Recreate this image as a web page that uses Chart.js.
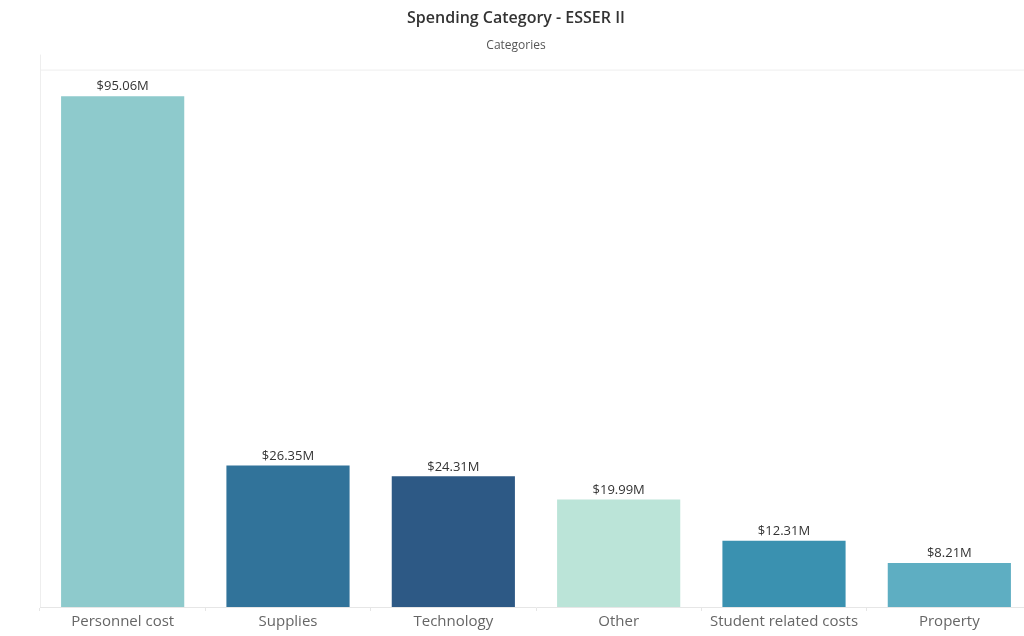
<!DOCTYPE html>
<html>
<head>
<meta charset="utf-8">
<script src="https://cdn.jsdelivr.net/npm/chart.js@4"></script>
<style>
  html, body { margin: 0; padding: 0; background: #fff; overflow: hidden; }
  #wrap { width: 1032px; height: 636px; }
</style>
</head>
<body>
<div id="wrap"><canvas id="spendChart" width="1032" height="636"></canvas></div>
<script>
const categories = ["Personnel cost", "Supplies", "Technology", "Other", "Student related costs", "Property"];
const spending = [95.06, 26.35, 24.31, 19.99, 12.31, 8.21];
const barColors = ["#8ecacc", "#31739a", "#2d5985", "#bbe4d8", "#3a91b0", "#5eaec2"];

// dollar labels above each bar
const valueLabels = {
  id: "valueLabels",
  afterDatasetsDraw(chart) {
    const ctx = chart.ctx;
    const meta = chart.getDatasetMeta(0);
    ctx.save();
    ctx.font = "13px 'Open Sans'";
    ctx.fillStyle = "#333333";
    ctx.textAlign = "center";
    ctx.textBaseline = "bottom";
    meta.data.forEach((bar, i) => {
      ctx.fillText("$" + spending[i].toFixed(2) + "M", bar.x, bar.y - 3);
    });
    ctx.restore();
  },
};

// thin frame lines like the tableau pane
const paneFrame = {
  id: "paneFrame",
  beforeDatasetsDraw(chart) {
    const { ctx, chartArea } = chart;
    ctx.save();
    ctx.strokeStyle = "#eeeeee";
    ctx.lineWidth = 1;
    ctx.beginPath();
    ctx.moveTo(chartArea.left + 0.5, chartArea.top - 15);
    ctx.lineTo(chartArea.left + 0.5, chartArea.bottom);
    ctx.moveTo(chartArea.left, chartArea.top + 0.5);
    ctx.lineTo(chartArea.right, chartArea.top + 0.5);
    ctx.stroke();
    ctx.restore();
  },
};

new Chart(document.getElementById("spendChart"), {
  type: "bar",
  data: {
    labels: categories,
    datasets: [
      {
        data: spending,
        backgroundColor: barColors,
        barPercentage: 0.745,
        categoryPercentage: 1.0,
      },
    ],
  },
  options: {
    responsive: false,
    animation: false,
    layout: { padding: { left: 0, right: 0, top: 0, bottom: 3 } },
    plugins: {
      legend: { display: false },
      tooltip: { enabled: false },
      title: {
        display: true,
        text: "Spending Category - ESSER II",
        color: "#333333",
        font: { family: "Open Sans", size: 16, weight: "600" },
        padding: { top: 9, bottom: 10 },
      },
      subtitle: {
        display: true,
        text: "Categories",
        color: "#555555",
        font: { family: "Open Sans", size: 12 },
        padding: { top: 0, bottom: 17 },
      },
    },
    scales: {
      x: {
        grid: {
          display: true,
          offset: true,
          drawOnChartArea: false,
          tickLength: 4,
          color: "#e6e6e6",
        },
        border: { color: "#e6e6e6" },
        ticks: {
          color: "#666666",
          font: { family: "Open Sans", size: 15 },
          padding: 2,
          maxRotation: 0,
        },
      },
      y: {
        min: 0,
        max: 100,
        grid: { display: false },
        border: { display: false },
        ticks: { display: false },
        afterFit(scale) {
          scale.width = 40;
        },
      },
    },
  },
  plugins: [valueLabels, paneFrame],
});
</script>
</body>
</html>
